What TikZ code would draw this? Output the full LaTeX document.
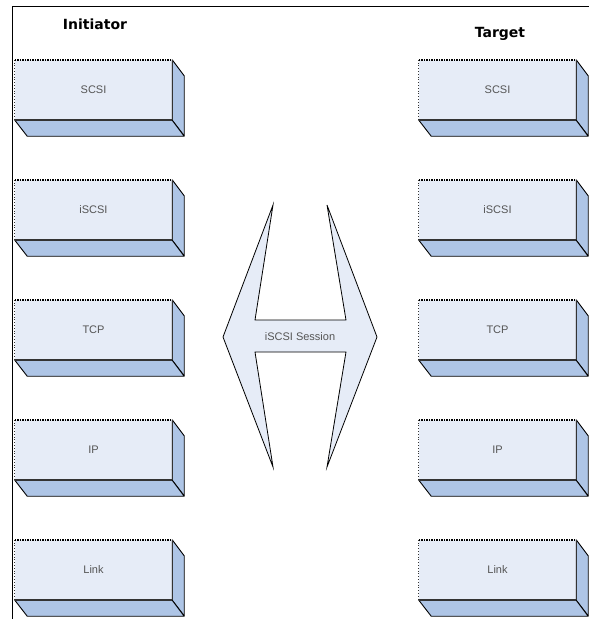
\documentclass[tikz,border=0pt]{standalone}
\usepackage{fontspec}
\setmainfont{Liberation Sans}
\newfontfamily\headfont{DejaVu Sans}
\definecolor{frontc}{HTML}{E6ECF7}
\definecolor{sidec}{HTML}{AEC5E6}
\definecolor{edgec}{HTML}{333333}
\definecolor{txtc}{HTML}{555555}
\begin{document}
\begin{tikzpicture}[x=1pt,y=-1pt,
  layer/.style={fill=frontc, minimum width=157pt, minimum height=60pt, inner sep=0pt,
    font=\fontsize{11}{13}\selectfont, text=txtc},
  depthface/.style={fill=sidec, draw=black, line width=0.9pt, line join=round},
  frontedge/.style={draw=edgec, line width=0.9pt},
  bottomedge/.style={draw=edgec, line width=1.8pt},
  topedge/.style={draw=black, densely dotted, line width=1.5pt},
  leftedge/.style={draw=edgec, dotted, line width=0.8pt},
  head/.style={font=\headfont\bfseries\fontsize{14}{16}\selectfont},
  session/.style={fill=frontc, draw=black, line width=0.8pt, line join=miter},
  sesstext/.style={font=\fontsize{11}{13}\selectfont, text=txtc}
]
\useasboundingbox (0,0) rectangle (589,619);
\draw[line width=1pt] (12,619) -- (12,6) -- (589,6);

\node[head] (init) at (95,24) {Initiator};
\node[head] (targ) at (500,34) {Target};

\foreach \lab [count=\i] in {SCSI,iSCSI,TCP,IP,Link}{
  \node[layer] (L\i) at (93.5,{90+120*(\i-1)}) {\lab};
  \node[layer] (R\i) at (497.5,{90+120*(\i-1)}) {\lab};
  \foreach \s in {L,R}{
    \filldraw[depthface] (\s\i.north east) -- ++(12,16) -- ++(0,60) -- (\s\i.south east) -- cycle;
    \filldraw[depthface] (\s\i.south west) -- (\s\i.south east) -- ++(12,16) -- ++(-157,0) -- cycle;
    \draw[frontedge] (\s\i.north east) -- (\s\i.south east);
    \draw[bottomedge] (\s\i.south west) -- (\s\i.south east);
    \draw[topedge] (\s\i.north west) -- (\s\i.north east);
    \draw[leftedge] (\s\i.north west) -- (\s\i.south west);
  }
}

\filldraw[session] (223,337) -- (273,205) -- (255,320) -- (346,320) -- (327,205)
  -- (377,337) -- (327,467) -- (346,352) -- (255,352) -- (273,467) -- cycle;
\node[sesstext] (sess) at (300,337) {iSCSI Session};
\end{tikzpicture}
\end{document}
